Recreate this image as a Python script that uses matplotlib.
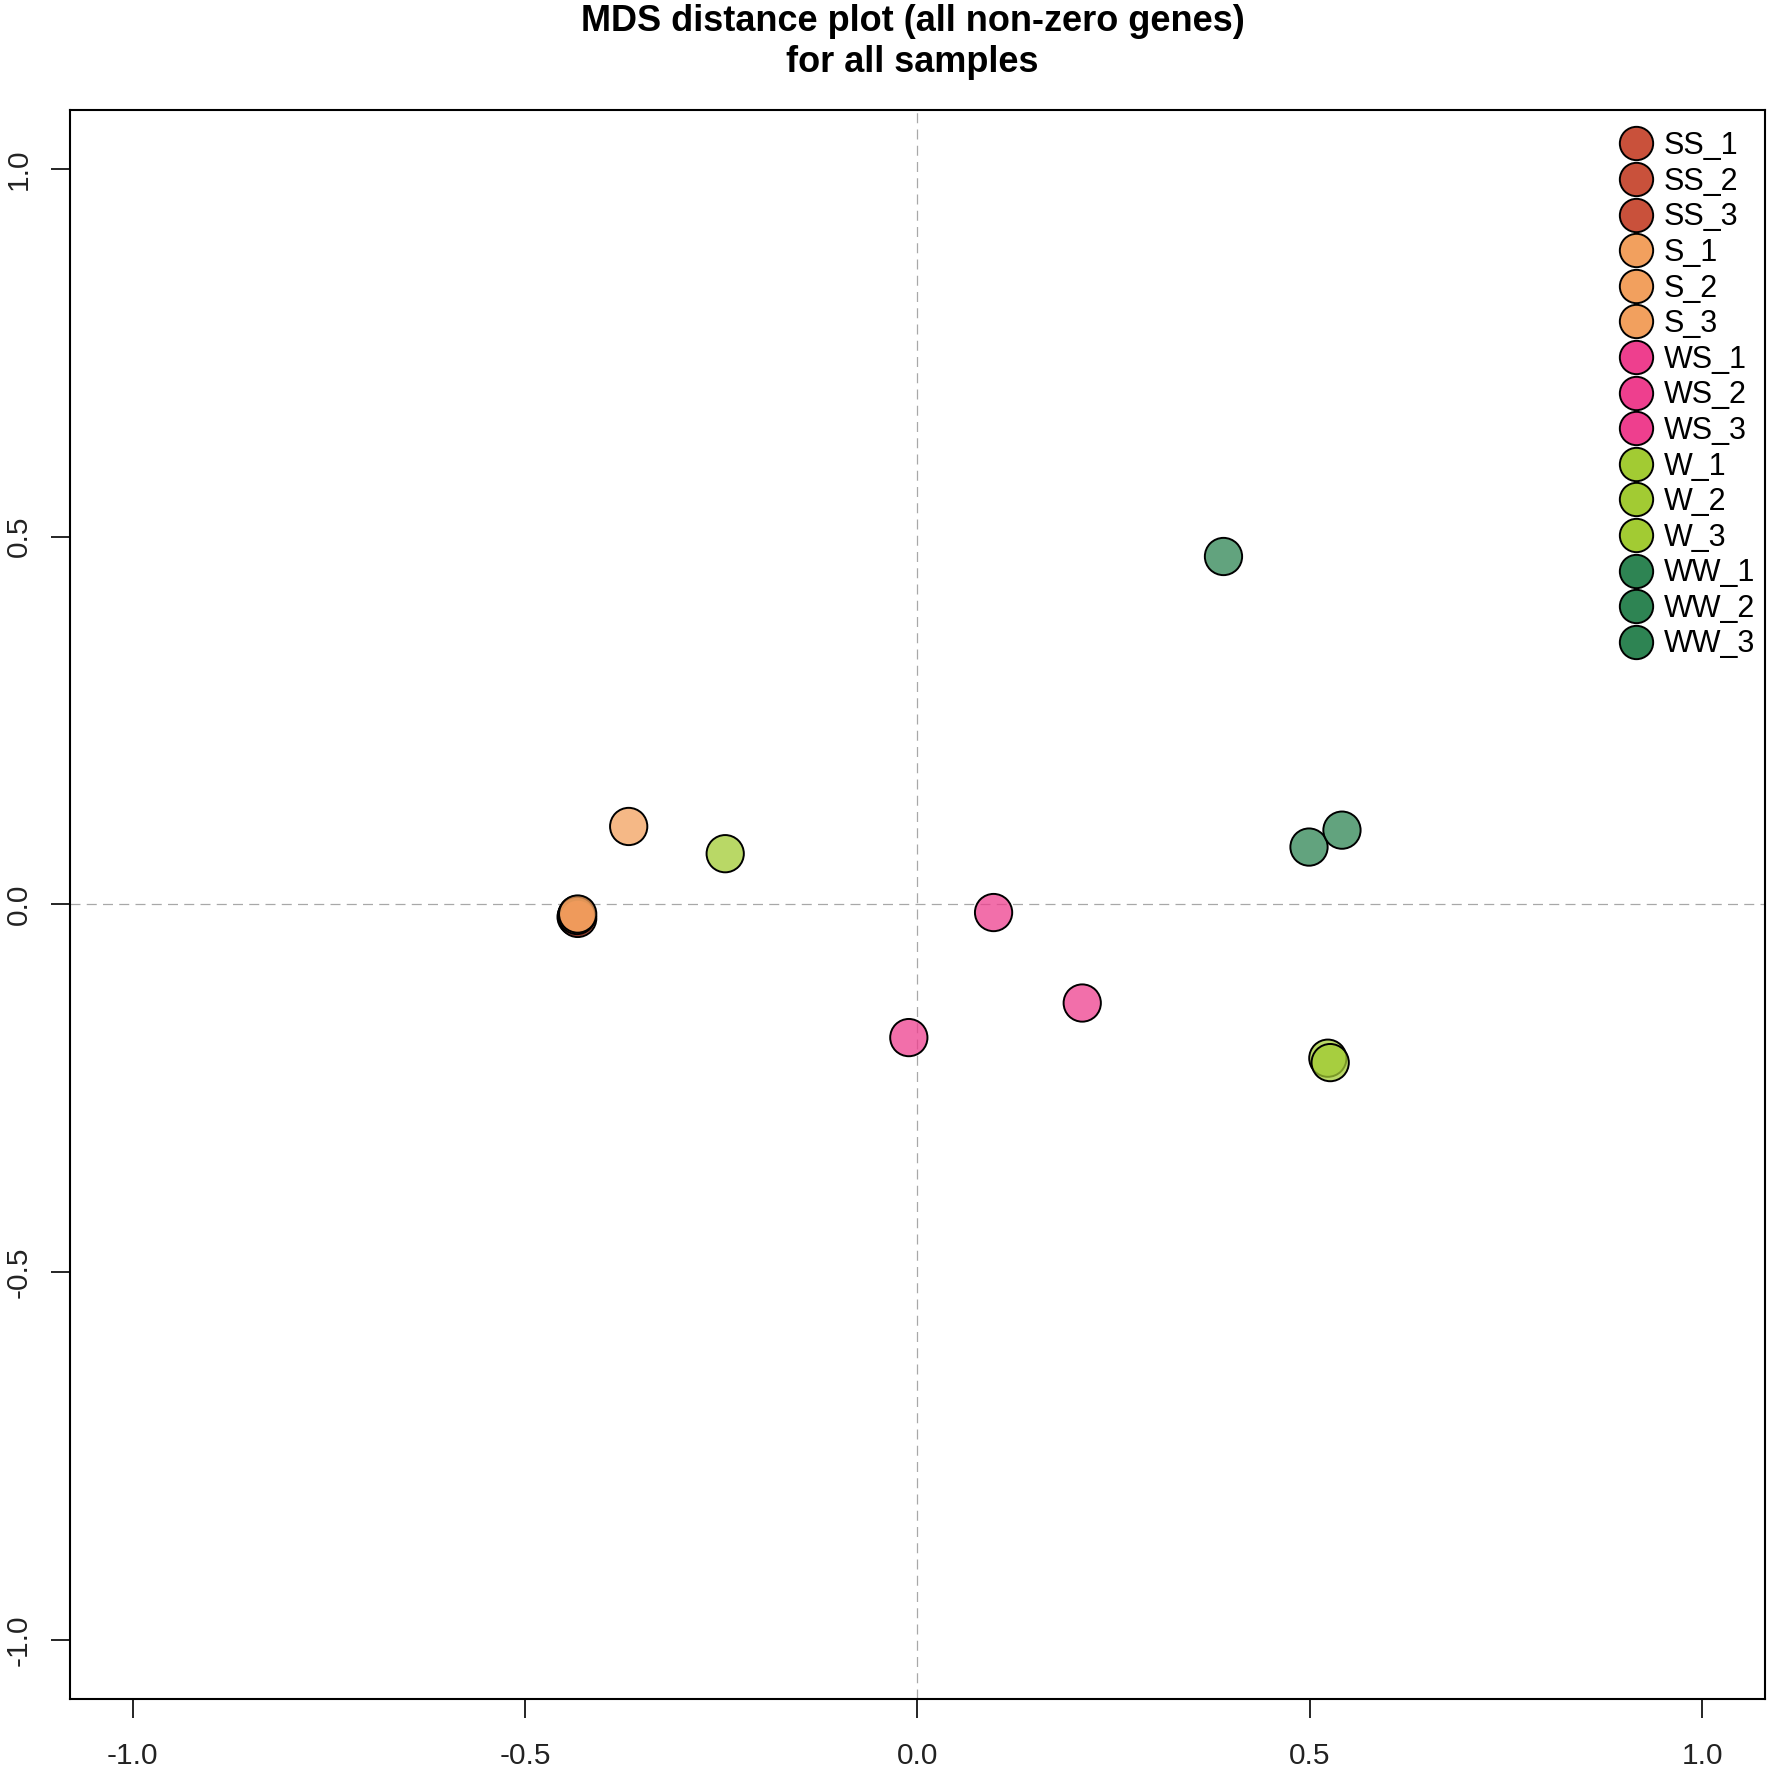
import numpy as np
import matplotlib
matplotlib.use("Agg")
import matplotlib.pyplot as plt
from matplotlib.lines import Line2D
from matplotlib.colors import to_rgba

plt.rcParams['font.family'] = ['Liberation Sans', 'DejaVu Sans']

# sample names, groups and MDS coordinates
samples = ['SS_1', 'SS_2', 'SS_3', 'S_1', 'S_2', 'S_3', 'WS_1', 'WS_2', 'WS_3',
           'W_1', 'W_2', 'W_3', 'WW_1', 'WW_2', 'WW_3']
groups = ['SS', 'SS', 'SS', 'S', 'S', 'S', 'WS', 'WS', 'WS',
          'W', 'W', 'W', 'WW', 'WW', 'WW']
dim1 = [-0.434, -0.435, -0.433, -0.368, -0.434, -0.433, 0.097, 0.210, -0.011,
        -0.245, 0.523, 0.526, 0.390, 0.499, 0.541]
dim2 = [-0.014, -0.017, -0.019, 0.106, -0.015, -0.013, -0.011, -0.134, -0.181,
        0.069, -0.209, -0.215, 0.473, 0.078, 0.101]

group_colors = {'SS': '#C9513B', 'S': '#F2A05E', 'WS': '#EE3F8E',
                'W': '#A2CB33', 'WW': '#2E8453'}

fig = plt.figure(figsize=(17.72, 17.71), dpi=100)
ax = fig.add_axes([0.0395, 0.0407, 0.9565, 0.8972])

ax.axhline(0, color='#A8A8A8', lw=0.9, dashes=(8, 5), zorder=1)
ax.axvline(0, color='#A8A8A8', lw=0.9, dashes=(8, 5), zorder=1)

fills = [to_rgba(group_colors[g], 0.75) for g in groups]
ax.scatter(dim1, dim2, s=720, c=fills, edgecolors='black', linewidths=1.4, zorder=3)

ax.set_xlim(-1.08, 1.08)
ax.set_ylim(-1.08, 1.08)
ticks = [-1.0, -0.5, 0.0, 0.5, 1.0]
ax.set_xticks(ticks)
ax.set_yticks(ticks)
ax.set_xticklabels(['%.1f' % t for t in ticks])
ax.set_yticklabels(['%.1f' % t for t in ticks], rotation=90, va='center')
ax.tick_params(axis='both', direction='out', length=14, width=1.2, labelsize=21.5,
               labelcolor='#222222')
ax.tick_params(axis='x', pad=17)
ax.tick_params(axis='y', pad=13)
for sp in ax.spines.values():
    sp.set_linewidth(1.5)

handles = [Line2D([], [], ls='none', marker='o', markersize=24,
                  markerfacecolor=group_colors[g], markeredgecolor='black',
                  markeredgewidth=1.4) for g in groups]
ax.legend(handles, samples, loc='upper right', bbox_to_anchor=(1.0, 0.993),
          frameon=False, fontsize=22, labelspacing=0.183, handletextpad=0.35,
          handlelength=1.1, borderaxespad=0.0, borderpad=0.33)

fig.suptitle('MDS distance plot (all non-zero genes)\nfor all samples',
             x=0.515, fontsize=26, fontweight='bold', y=0.998, linespacing=1.25)

fig.savefig('out.png', dpi=100)
